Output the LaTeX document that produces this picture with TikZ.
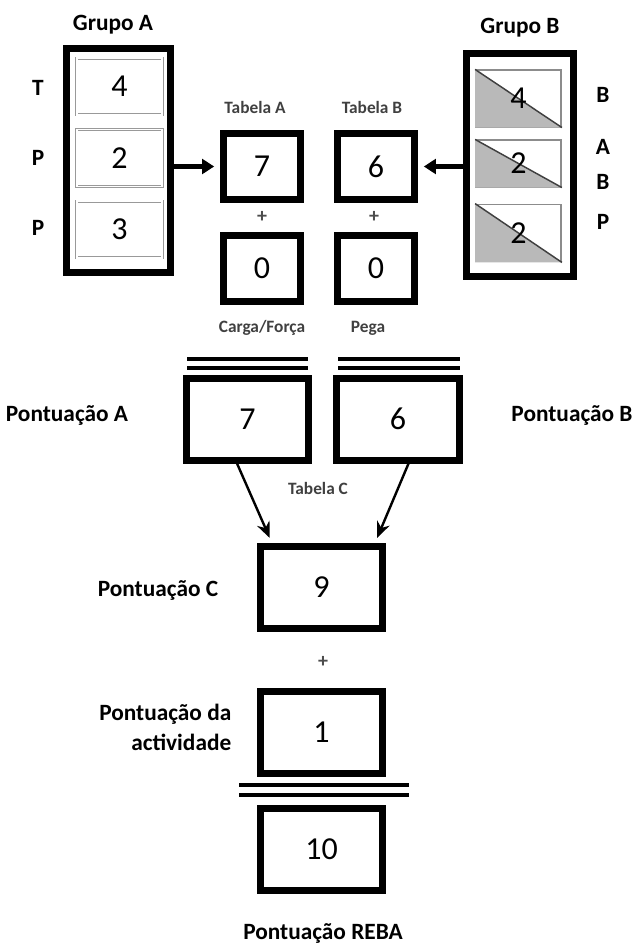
\documentclass[tikz,border=0pt]{standalone}
\usepackage{fontspec}
\setmainfont{Carlito}
\usetikzlibrary{arrows.meta,calc}

\tikzset{
  score/.style={draw, line width=5.25pt, inner sep=0pt, outer sep=0pt,
    minimum width=57.75pt, minimum height=49.5pt,
    font=\fontsize{24}{24}\selectfont},
  widescore/.style={score, minimum width=91.5pt, minimum height=61.5pt},
  group/.style={draw, line width=5.25pt, inner sep=0pt, outer sep=0pt,
    minimum width=78pt, minimum height=168pt},
  cellA/.style={draw=gray!80, double=white, double distance=1.1pt, line width=0.6pt,
    inner sep=0pt, minimum width=64pt, minimum height=42.5pt,
    font=\fontsize{24}{24}\selectfont},
  cellB/.style={draw=gray!90, line width=1.1pt, inner sep=0pt,
    minimum width=64pt, font=\fontsize{24}{24}\selectfont},
  lbl/.style={font=\fontsize{17.5}{22.5}\selectfont\bfseries},
  tab/.style={font=\fontsize{13}{14}\selectfont\bfseries, text=black!75},
  plus/.style={font=\fontsize{15}{15}\selectfont\bfseries, text=black!70},
  bar/.style={line width=2.6pt},
  bigarrow/.style={line width=3.2pt, -{Triangle[length=9pt,width=11pt]}},
  arrow/.style={line width=1.8pt, -{Stealth[length=12pt,width=10pt]}}
}

\begin{document}
\begin{tikzpicture}[x=0.75pt,y=-0.75pt]
  \useasboundingbox (0,0) rectangle (636,949);

  % group A: body angles
  \node[lbl] (GA) at (113,25) {Grupo A};
  \node[group] (ga) at (118,160.5) {};
  \node[cellA] (a1) at (119.5,86.5) {4};
  \node[cellA] (a2) at (119.5,158) {2};
  \node[cellA] (a3) at (119.5,229.5) {3};
  \node[lbl] (lT) at (38,88) {T};
  \node[lbl] (lP1) at (38,158) {P};
  \node[lbl] (lP2) at (38,228) {P};

  % group B: arm angles, lower half shaded
  \node[lbl] (GB) at (520,28) {Grupo B};
  \node[group, minimum width=80pt, minimum height=167pt] (gb) at (520,165) {};
  \foreach \n/\y/\h in {b1/98.5/42.5, b2/163.5/35, b3/233/43}{
    \node[cellB, minimum height=\h pt] (\n) at (518.5,\y) {};
    \fill[gray!55] (\n.north west) -- (\n.south east) -- (\n.south west) -- cycle;
    \draw[line width=1.1pt, black!75] (\n.north west) -- (\n.south east);
  }
  \node[font=\fontsize{24}{24}\selectfont] at (b1) {4};
  \node[font=\fontsize{24}{24}\selectfont] at (b2) {2};
  \node[font=\fontsize{24}{24}\selectfont] at (b3) {2};
  \node[lbl] (lB1) at (603,95) {B};
  \node[lbl] (lA) at (603,147) {A};
  \node[lbl] (lB2) at (603,182) {B};
  \node[lbl] (lP3) at (603,222) {P};

  % tables A and B with their extra points
  \node[tab] (TA) at (255,107) {Tabela A};
  \node[tab] (TB) at (372,107) {Tabela B};
  \node[score] (ta) at (262,166.5) {7};
  \node[score] (tb) at (376,166.5) {6};
  \node[plus] (p1) at (262,217) {+};
  \node[plus] (p2) at (374,217) {+};
  \node[score] (ca) at (262,268.5) {0};
  \node[score] (pg) at (376,268.5) {0};
  \node[tab] (lca) at (262,328) {Carga/Força};
  \node[tab] (lpg) at (368,328) {Pega};

  \draw[bigarrow, shorten >=7pt] (ga.east |- ta) -- (ta.west);
  \draw[bigarrow, shorten >=7pt] (gb.west |- tb) -- (tb.east);

  % scores A and B
  \draw[bar] (187,359) -- (308,359);
  \draw[bar] (187,368) -- (308,368);
  \draw[bar] (338,359) -- (460,359);
  \draw[bar] (338,368) -- (460,368);
  \node[widescore, minimum width=92pt] (pa) at (247.5,419) {7};
  \node[widescore, minimum width=92pt] (pb) at (398,419) {6};
  \node[lbl] (lpa) at (67,415) {Pontuação A};
  \node[lbl] (lpb) at (572,415) {Pontuação B};
  \node[tab] (TC) at (318,488) {Tabela C};

  % score C, activity and final score
  \node[widescore] (pc) at (321.5,587.5) {9};
  \node[lbl] (lpc) at (158,590) {Pontuação C};
  \draw[arrow, shorten >=7pt] ($(pa.south)+(-12,0)$) -- ($(pc.north)+(-48,0)$);
  \draw[arrow, shorten >=7pt] ($(pb.south)+(12,0)$) -- ($(pc.north)+(52,0)$);

  \node[plus] (p3) at (323,662) {+};
  \node[widescore] (ac) at (321.5,732.5) {1};
  \node[lbl, align=right, anchor=east] (lac) at (236,727) {Pontuação da\\actividade};

  \draw[bar] (239,785) -- (409,785);
  \draw[bar] (239,795) -- (409,795);
  \node[widescore] (rb) at (321.5,849) {10};
  \node[lbl] (lrb) at (323,933) {Pontuação REBA};
\end{tikzpicture}
\end{document}
